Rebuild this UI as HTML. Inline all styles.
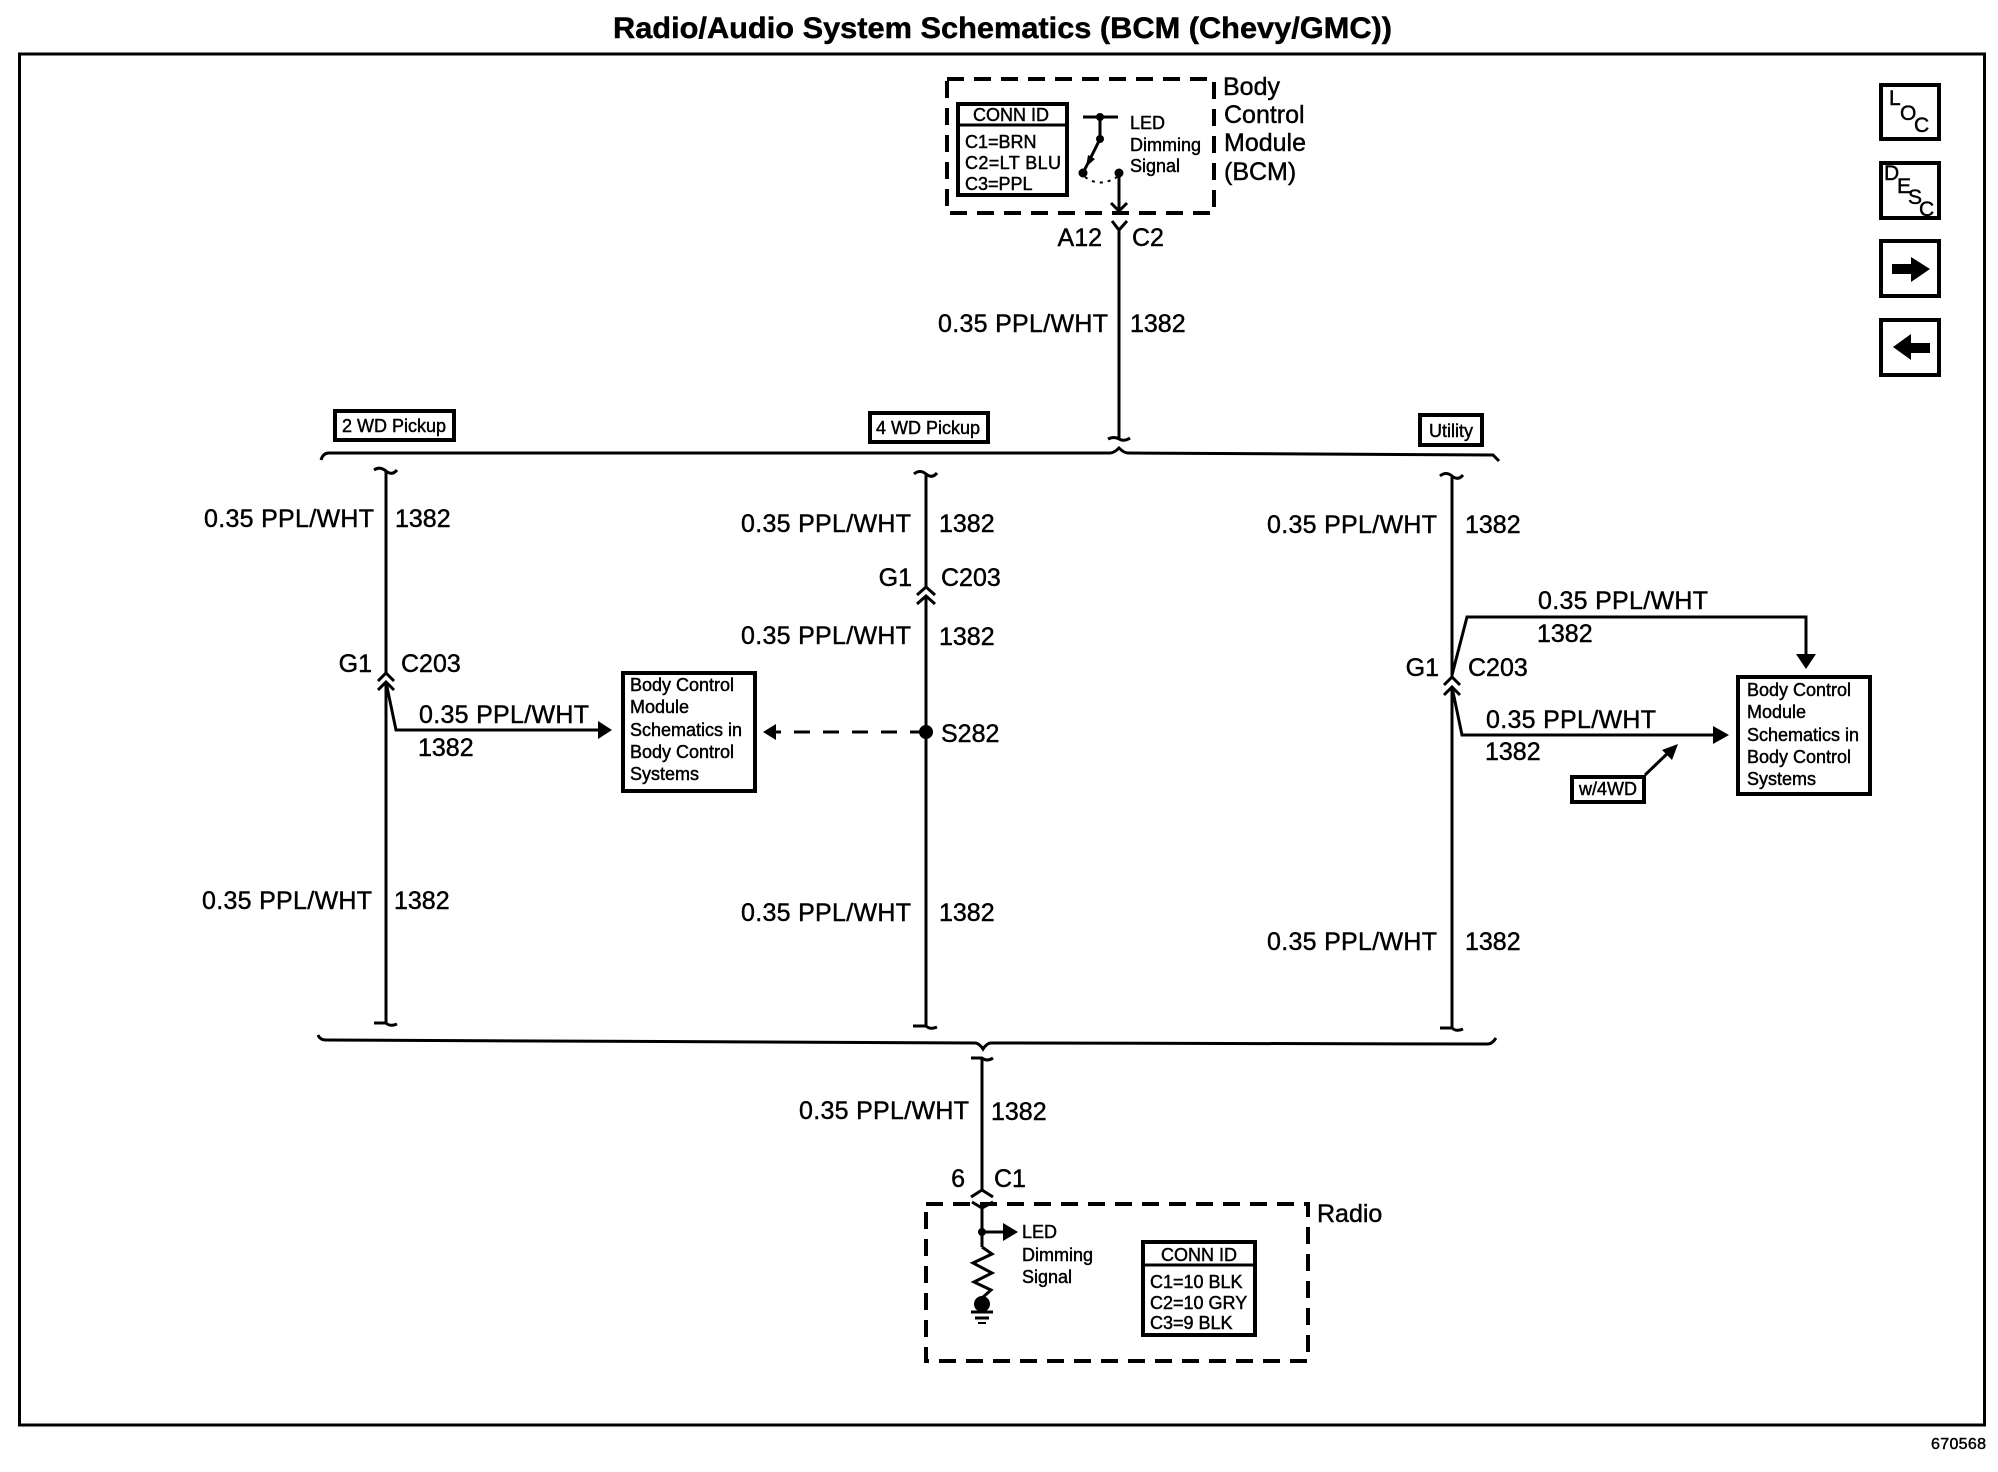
<!DOCTYPE html>
<html><head><meta charset="utf-8"><title>Radio/Audio System Schematics</title>
<style>
html,body{margin:0;padding:0;background:#fff}
svg{display:block}
text{font-family:"Liberation Sans",sans-serif;fill:#000;stroke:#000;stroke-width:.45}
.l{font-size:25px}
.s{font-size:18px}
.w{fill:none;stroke:#000;stroke-width:3}
.t{fill:none;stroke:#000;stroke-width:4}
.f{fill:#000;stroke:none}
.d{fill:none;stroke:#000;stroke-width:4;stroke-dasharray:17 10}
</style></head><body>
<svg width="1998" height="1472" viewBox="0 0 1998 1472" xmlns="http://www.w3.org/2000/svg">
<rect width="1998" height="1472" fill="#fff"/>
<text x="613" y="38" font-size="30" font-weight="bold" textLength="779" lengthAdjust="spacingAndGlyphs">Radio/Audio System Schematics (BCM (Chevy/GMC))</text>
<rect x="19.5" y="54" width="1965" height="1371" class="w"/>
<text x="1931" y="1449" font-size="16" textLength="55">670568</text>

<!-- Nav icons -->
<rect x="1881" y="85" width="58" height="54" class="t"/>
<text x="1889" y="105" font-size="21">L</text><text x="1900" y="120" font-size="21">O</text><text x="1914" y="132" font-size="21">C</text>
<rect x="1881" y="163" width="58" height="55" class="t"/>
<text x="1884" y="180" font-size="21">D</text><text x="1897" y="193" font-size="21">E</text><text x="1908" y="204" font-size="21">S</text><text x="1919" y="216" font-size="21">C</text>
<rect x="1881" y="241" width="58" height="55" class="t"/>
<path class="f" d="M1892 264H1911V257L1930 269L1911 282V274H1892Z"/>
<rect x="1881" y="320" width="58" height="55" class="t"/>
<path class="f" d="M1930 343H1911V334L1893 347L1911 360V353H1930Z"/>

<!-- BCM -->
<rect x="947" y="79" width="267" height="134" class="d"/>
<rect x="958" y="104" width="109" height="91" class="t"/>
<line x1="958" y1="125" x2="1067" y2="125" class="w"/>
<text x="1011" y="121" class="s" text-anchor="middle">CONN ID</text>
<text x="965" y="148" class="s">C1=BRN</text>
<text x="965" y="169" class="s" textLength="96">C2=LT BLU</text>
<text x="965" y="190" class="s">C3=PPL</text>
<path class="w" d="M1083 117H1118M1100 117V139L1083 173"/>
<circle cx="1100" cy="117" r="4" class="f"/><circle cx="1100" cy="139" r="4" class="f"/><circle cx="1083" cy="173" r="4.5" class="f"/><circle cx="1119" cy="173" r="4.5" class="f"/>
<path class="f" d="M1086 167L1088 155L1095 159Z"/>
<path d="M1085 177Q1100 188 1117 177" fill="none" stroke="#000" stroke-width="2" stroke-dasharray="3 5"/>
<path class="w" d="M1119 173V210M1111 203L1119 211L1127 203"/>
<text x="1130" y="129" class="s">LED</text>
<text x="1130" y="151" class="s">Dimming</text>
<text x="1130" y="172" class="s">Signal</text>
<text x="1223" y="95" class="l">Body</text>
<text x="1224" y="123" class="l">Control</text>
<text x="1224" y="151" class="l">Module</text>
<text x="1224" y="180" class="l">(BCM)</text>
<path class="w" d="M1112 221L1119 230L1127 221M1119 230V438"/>
<path class="w" d="M1108 439Q1114 436 1119 439T1130 438"/>
<text x="1102" y="246" class="l" text-anchor="end">A12</text>
<text x="1132" y="246" class="l">C2</text>
<text x="938" y="332" class="l" textLength="170">0.35 PPL/WHT</text>
<text x="1130" y="332" class="l">1382</text>

<!-- Top bus -->
<path class="w" d="M321 460Q323 453 329 453L1110 453Q1114 453 1119 448Q1124 453 1128 453L1493 455L1499 461"/>
<rect x="335" y="411" width="119" height="29" class="t"/>
<text x="394" y="432" class="s" text-anchor="middle">2 WD Pickup</text>
<rect x="870" y="413" width="118" height="29" class="t"/>
<text x="928" y="434" class="s" text-anchor="middle">4 WD Pickup</text>
<rect x="1420" y="415" width="62" height="30" class="t"/>
<text x="1451" y="437" class="s" text-anchor="middle">Utility</text>

<!-- Column 1 -->
<path class="w" d="M374 470Q380 466 386 471T397 470M386 471V673M386 682L396 730H600M386 682V1024"/>
<path class="w" d="M374 1023H386Q390 1027 397 1024M378 681L386 673L394 681M378 690L386 682L394 690"/>
<path class="f" d="M598 721L612 730L598 739Z"/>
<text x="204" y="527" class="l" textLength="170">0.35 PPL/WHT</text>
<text x="395" y="527" class="l">1382</text>
<text x="372" y="672" class="l" text-anchor="end">G1</text>
<text x="401" y="672" class="l">C203</text>
<text x="419" y="723" class="l" textLength="170">0.35 PPL/WHT</text>
<text x="418" y="756" class="l">1382</text>
<text x="202" y="909" class="l" textLength="170">0.35 PPL/WHT</text>
<text x="394" y="909" class="l">1382</text>
<rect x="623" y="673" width="132" height="118" class="t"/>
<g class="s">
<text x="630" y="691">Body Control</text><text x="630" y="713">Module</text><text x="630" y="736">Schematics in</text><text x="630" y="758">Body Control</text><text x="630" y="780">Systems</text>
</g>

<!-- Column 2 -->
<path class="w" d="M914 474Q920 469 926 474T937 473M926 474V587M926 596V1027"/>
<path class="w" d="M913 1026H926Q930 1030 937 1027M917 595L926 587L935 595M917 604L926 596L935 604"/>
<circle cx="926" cy="732" r="7" class="f"/>
<line x1="926" y1="732" x2="776" y2="732" class="w" stroke-dasharray="16 13"/>
<path class="f" d="M776 724L763 732L776 740Z"/>
<text x="741" y="532" class="l" textLength="170">0.35 PPL/WHT</text>
<text x="939" y="532" class="l">1382</text>
<text x="912" y="586" class="l" text-anchor="end">G1</text>
<text x="941" y="586" class="l">C203</text>
<text x="741" y="644" class="l" textLength="170">0.35 PPL/WHT</text>
<text x="939" y="645" class="l">1382</text>
<text x="941" y="742" class="l">S282</text>
<text x="741" y="921" class="l" textLength="170">0.35 PPL/WHT</text>
<text x="939" y="921" class="l">1382</text>

<!-- Column 3 -->
<path class="w" d="M1440 476Q1446 471 1452 476T1463 475M1452 476V677M1452 675L1467 617H1806V656M1452 687L1462 735H1715M1452 687V1029"/>
<path class="w" d="M1440 1028H1452Q1456 1032 1463 1029M1444 685L1452 677L1460 685M1444 695L1452 687L1460 695"/>
<path class="f" d="M1796 654H1816L1806 669Z"/>
<path class="f" d="M1713 726L1729 735L1713 744Z"/>
<text x="1267" y="533" class="l" textLength="170">0.35 PPL/WHT</text>
<text x="1465" y="533" class="l">1382</text>
<text x="1538" y="609" class="l" textLength="170">0.35 PPL/WHT</text>
<text x="1537" y="642" class="l">1382</text>
<text x="1439" y="676" class="l" text-anchor="end">G1</text>
<text x="1468" y="676" class="l">C203</text>
<text x="1486" y="728" class="l" textLength="170">0.35 PPL/WHT</text>
<text x="1485" y="760" class="l">1382</text>
<text x="1267" y="950" class="l" textLength="170">0.35 PPL/WHT</text>
<text x="1465" y="950" class="l">1382</text>
<rect x="1738" y="677" width="132" height="117" class="t"/>
<g class="s">
<text x="1747" y="696">Body Control</text><text x="1747" y="718">Module</text><text x="1747" y="741">Schematics in</text><text x="1747" y="763">Body Control</text><text x="1747" y="785">Systems</text>
</g>
<rect x="1572" y="777" width="72" height="25" class="t"/>
<text x="1608" y="795" class="s" text-anchor="middle" font-size="17">w/4WD</text>
<line x1="1645" y1="775" x2="1670" y2="751" class="w"/>
<path class="f" d="M1678 744L1672 760L1662 750Z"/>

<!-- Bottom bus -->
<path class="w" d="M318 1035Q320 1040 326 1040L975 1043Q979 1043 983 1049Q987 1043 991 1043L1488 1044Q1492 1044 1496 1038"/>
<path class="w" d="M971 1058H982Q987 1062 993 1058M982 1058V1190"/>
<text x="799" y="1119" class="l" textLength="170">0.35 PPL/WHT</text>
<text x="991" y="1120" class="l">1382</text>
<text x="965" y="1187" class="l" text-anchor="end">6</text>
<text x="994" y="1187" class="l">C1</text>

<!-- Radio -->
<rect x="926" y="1204" width="382" height="157" class="d"/>
<path class="w" d="M971 1197L982 1190L993 1197M972 1202L982 1208L993 1202M982 1208V1247M982 1232H1005"/>
<circle cx="982" cy="1232" r="4" class="f"/>
<path class="f" d="M1003 1223L1018 1232L1003 1241Z"/>
<path class="w" d="M982 1247L992 1254L973 1263L992 1273L974 1282L991 1290L982 1298"/>
<circle cx="982" cy="1304" r="8" class="f"/>
<path class="w" d="M971 1312H993M975 1318H989"/>
<path d="M978 1323H986" stroke="#000" stroke-width="2"/>
<text x="1022" y="1238" class="s">LED</text>
<text x="1022" y="1261" class="s">Dimming</text>
<text x="1022" y="1283" class="s">Signal</text>
<rect x="1143" y="1242" width="112" height="93" class="t"/>
<line x1="1143" y1="1265" x2="1255" y2="1265" class="w"/>
<text x="1199" y="1261" class="s" text-anchor="middle">CONN ID</text>
<text x="1150" y="1288" class="s">C1=10 BLK</text>
<text x="1150" y="1309" class="s">C2=10 GRY</text>
<text x="1150" y="1329" class="s">C3=9 BLK</text>
<text x="1317" y="1222" class="l">Radio</text>
</svg>
</body></html>
